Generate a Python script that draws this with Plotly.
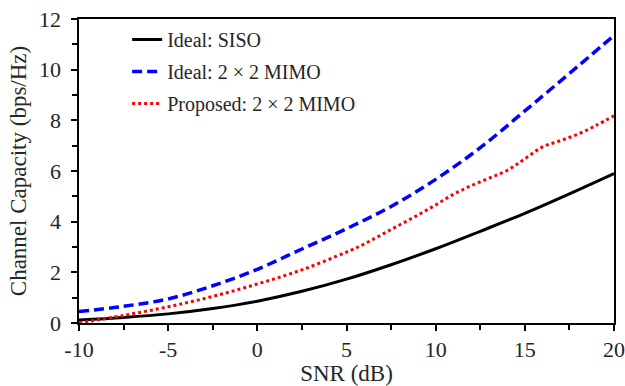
import plotly.graph_objects as go

# SNR grid (dB)
snr_smooth = [-10, -7.5, -5, -2.5, 0, 2.5, 5, 7.5, 10, 12.5, 15, 17.5, 20]
siso = [0.12, 0.22, 0.36, 0.57, 0.86, 1.25, 1.73, 2.30, 2.93, 3.62, 4.33, 5.10, 5.90]
mimo_ideal = [0.45, 0.66, 0.95, 1.47, 2.12, 2.92, 3.72, 4.60, 5.67, 6.92, 8.37, 9.85, 11.35]

snr_prop = [-10, -7.5, -5, -2.5, 0, 2.5, 5, 6, 7, 8, 9, 10, 11, 12, 13, 14, 15, 16, 17, 18, 19, 20]
mimo_prop = [0.0, 0.30, 0.64, 1.05, 1.54, 2.10, 2.80, 3.12, 3.50, 3.88, 4.26, 4.66,
             5.08, 5.42, 5.72, 6.02, 6.48, 6.95, 7.20, 7.46, 7.80, 8.18]

names = ["Ideal: SISO", "Ideal: 2 \u00d7 2 MIMO", "Proposed: 2 \u00d7 2 MIMO"]
x_ticks = [-10, -5, 0, 5, 10, 15, 20]
y_ticks = [0, 2, 4, 6, 8, 10, 12]

FONT = "'Times New Roman', 'Liberation Serif', Times, 'DejaVu Serif', serif"
TXT = "#262626"

fig = go.Figure()
fig.add_trace(go.Scatter(x=snr_smooth, y=siso, mode="lines", name=names[0], legendgroup="a",
                         line=dict(color="black", width=3, shape="spline")))
fig.add_trace(go.Scatter(x=snr_smooth, y=mimo_ideal, mode="lines", name=names[1], legendgroup="b",
                         line=dict(color="#0000FF", width=3.5, dash="10px,5px", shape="spline")))
fig.add_trace(go.Scatter(x=snr_prop, y=mimo_prop, mode="lines", name=names[2], legendgroup="c",
                         line=dict(color="#FF0000", width=3, dash="3px,3px", shape="spline")))

axis_common = dict(
    showgrid=False, zeroline=False, showline=True, linecolor="black", linewidth=2,
    mirror=True, ticks="outside", ticklen=6, tickwidth=1.5, tickcolor="black",
    tickfont=dict(family=FONT, size=22, color=TXT), automargin=False,
)

fig.update_xaxes(range=[-10, 20], tickvals=x_ticks, ticktext=[str(v) for v in x_ticks],
                 minor=dict(dtick=2.5, tick0=-10, ticks="outside", ticklen=5, tickwidth=1.5, tickcolor="black"),
                 title=dict(text="SNR (dB)", font=dict(family=FONT, size=23, color=TXT), standoff=2),
                 **axis_common)
fig.update_yaxes(range=[0, 12], tickvals=y_ticks, ticktext=[f"{v}\u00a0" for v in y_ticks],
                 minor=dict(dtick=1, tick0=0, ticks="outside", ticklen=5, tickwidth=1.5, tickcolor="black"),
                 title=dict(text="Channel Capacity (bps/Hz)", font=dict(family=FONT, size=23, color=TXT), standoff=6),
                 **axis_common)

fig.update_layout(
    width=625, height=386,
    margin=dict(l=79, r=11, t=19, b=63),
    plot_bgcolor="white", paper_bgcolor="white",
    font=dict(family=FONT, color=TXT),
    showlegend=True,
    legend=dict(x=0.09, y=0.997, xanchor="left", yanchor="top",
                font=dict(family=FONT, size=20, color=TXT),
                bgcolor="rgba(0,0,0,0)", borderwidth=0, tracegroupgap=3, itemwidth=30),
)

fig.write_html("out.html")
